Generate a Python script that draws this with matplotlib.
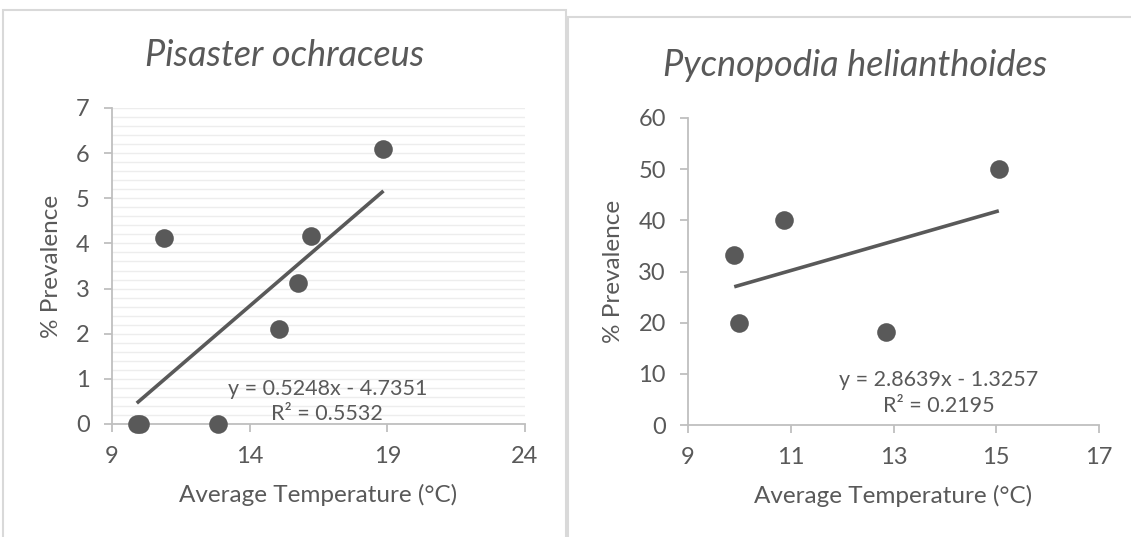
import numpy as np
import matplotlib
matplotlib.use("Agg")
import matplotlib.pyplot as plt
from matplotlib.patches import Rectangle
from matplotlib.ticker import MultipleLocator

# Pisaster ochraceus
pis_temp = [9.9, 10.0, 10.89, 12.86, 15.07, 15.77, 16.22, 18.86]
pis_prev = [0, 0, 4.13, 0, 2.10, 3.13, 4.17, 6.10]

# Pycnopodia helianthoides
pyc_temp = [9.9, 10.0, 10.87, 12.85, 15.05]
pyc_prev = [33.3, 20, 40, 18.2, 50]

titles = ["Pisaster ochraceus", "Pycnopodia helianthoides"]
eqs = ["y = 0.5248x - 4.7351\nR\u00b2 = 0.5532", "y = 2.8639x - 1.3257\nR\u00b2 = 0.2195"]
pis_xticks = [9, 14, 19, 24]
pyc_xticks = [9, 11, 13, 15, 17]

plt.rcParams['font.family'] = ['Lato', 'DejaVu Sans']
txt = '#595959'
axcol = '#BFBFBF'
mk = '#595959'

fig = plt.figure(figsize=(11.31, 5.37), dpi=100)
W, H = 1131, 537

def fx(px):
    return px / W

def fy(py):
    return 1 - py / H

# chart frames
fig.add_artist(Rectangle((fx(3), fy(560)), fx(563), fy(9.5) - fy(560), transform=fig.transFigure,
                         fill=False, edgecolor='#D9D9D9', linewidth=1.5))
fig.add_artist(Rectangle((fx(568), fy(560)), fx(600), fy(17) - fy(560), transform=fig.transFigure,
                         fill=False, edgecolor='#D9D9D9', linewidth=1.5))

ax1 = fig.add_axes([fx(112), fy(424), fx(525 - 112), fy(108) - fy(424)])
ax2 = fig.add_axes([fx(688), fy(425), fx(1099 - 688), fy(118) - fy(425)])

def style(ax, xlim, ylim, xticks, ystep):
    ax.set_xlim(*xlim)
    ax.set_ylim(*ylim)
    ax.set_xticks(xticks)
    ax.yaxis.set_major_locator(MultipleLocator(ystep))
    for s in ['top', 'right']:
        ax.spines[s].set_visible(False)
    for s in ['left', 'bottom']:
        ax.spines[s].set_color(axcol)
        ax.spines[s].set_linewidth(1.3)
    ax.tick_params(colors=axcol, labelcolor=txt, labelsize=17, length=6, width=1.3)
    ax.tick_params(axis='y', pad=10)
    ax.tick_params(axis='x', pad=10)
    ax.set_xlabel("Average Temperature (\u00b0C)", color=txt, fontsize=17.5, labelpad=12)
    ax.set_ylabel("% Prevalence", color=txt, fontsize=17.5, labelpad=10)

style(ax1, (9, 24), (0, 7), pis_xticks, 1)
style(ax2, (9, 17), (0, 60), pyc_xticks, 10)

# minor gridlines on the first chart
ax1.yaxis.set_minor_locator(MultipleLocator(0.2))
ax1.tick_params(which='minor', length=0)
ax1.grid(which='both', axis='y', color='#EDEDED', linewidth=1.0)
ax1.set_axisbelow(True)

for ax, xs, ys in [(ax1, pis_temp, pis_prev), (ax2, pyc_temp, pyc_prev)]:
    ax.scatter(xs, ys, s=180, color=mk, zorder=3, clip_on=False, linewidths=0)
    m, b = np.polyfit(xs, ys, 1)
    xx = np.array([min(xs), max(xs)])
    ax.plot(xx, m * xx + b, color=mk, linewidth=2.6, zorder=2, solid_capstyle='butt')

ax1.text(16.82, 0.5, eqs[0], ha='center', va='center', color=txt, fontsize=15.5, linespacing=1.35)
ax2.text(13.88, 6.2, eqs[1], ha='center', va='center', color=txt, fontsize=15.5, linespacing=1.35)

fig.text(fx(285), fy(55), titles[0], ha='center', va='center', color=txt, fontsize=26, style='italic')
fig.text(fx(855), fy(65), titles[1], ha='center', va='center', color=txt, fontsize=26, style='italic')

fig.savefig("out.png", dpi=100)
